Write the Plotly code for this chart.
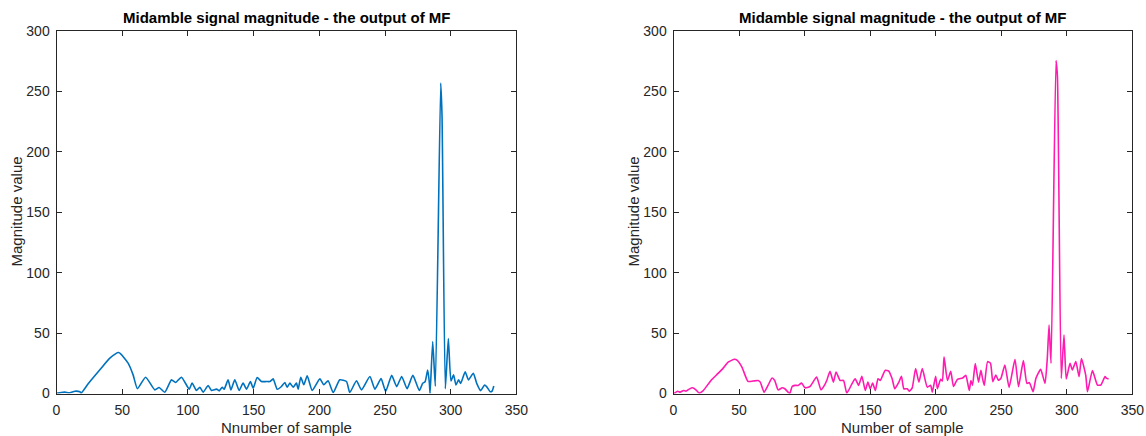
import plotly.graph_objects as go

W, H = 1146, 436

# ---------------- data ----------------
left_x = [0.5, 3.5, 6.3, 10.1, 14.0, 17.8, 18.8, 24.1, 33.0, 40.6, 47.4, 54.5, 58.3, 61.6,
          67.8, 74.8, 78.1, 82.4, 87.5, 90.6, 95.1, 101.0, 103.2, 106.5, 109.1, 111.6,
          115.4, 117.9, 121.8, 123.8, 126.1, 127.6, 130.6, 132.7, 135.7, 139.0, 142.0,
          144.6, 147.6, 149.7, 152.7, 156.0, 159.8, 162.4, 164.9, 167.9, 171.2, 173.8,
          175.5, 177.6, 180.1, 182.6, 183.9, 185.9, 188.2, 190.8, 194.6, 200.4, 203.4,
          206.7, 210.6, 215.6, 220.7, 223.2, 228.3, 232.1, 238.5, 242.3, 247.0, 250.5,
          255.1, 258.9, 262.7, 266.8, 271.2, 276.1, 278.7, 280.5, 282.5, 283.8, 284.3,
          286.3, 288.3, 292.4, 293.4, 295.9, 298.2, 300.2, 302.2, 304.0, 306.0, 307.6,
          311.0, 313.5, 317.2, 319.8, 322.8, 325.8, 327.5, 330.0, 331.5, 332.8]
left_y = [0.3, 0.8, 1.1, 0.6, 1.9, 1.4, 0.4, 8.0, 19.6, 29.2, 33.9, 25.1, 15.4, 4.0,
          13.5, 3.0, 5.0, 1.1, 11.3, 9.1, 13.5, 3.6, 8.6, 2.5, 5.2, 1.1,
          6.6, 2.5, 3.6, 2.2, 5.2, 3.6, 11.3, 3.0, 11.3, 2.5, 8.6,
          3.6, 9.9, 4.4, 13.2, 9.9, 9.9, 9.9, 12.1, 3.6, 5.8, 9.1,
          5.2, 8.6, 5.2, 8.6, 3.6, 13.5, 7.2, 14.6, 2.5, 12.1, 7.2,
          10.5, 0.8, 11.3, 9.9, 0.8, 10.5, 3.0, 14.1, 3.6, 12.3, 1.8,
          15.0, 5.7, 14.1, 4.0, 15.0, 2.5, 8.4, 9.7, 19.4, 8.4, 0.0,
          43.0, 6.0, 257.0, 229.6, 3.9, 45.5, 10.3, 15.4, 7.0, 11.3, 8.4,
          18.0, 11.3, 16.7, 8.4, 2.4, 7.0, 5.5, 1.5, 2.0, 6.2]

right_x = [0.5, 3.1, 5.1, 7.7, 9.5, 12.0, 14.6, 17.1, 19.7, 22.3, 28.6, 33.8, 37.6, 41.9,
           46.5, 48.6, 52.2, 56.8, 60.6, 64.5, 66.2, 69.1, 72.1, 75.2, 77.2, 79.8, 82.9,
           84.9, 88.7, 90.5, 92.6, 95.1, 97.7, 100.3, 104.1, 109.2, 112.5, 115.1, 116.9,
           119.4, 122.0, 124.0, 127.1, 129.7, 132.2, 136.1, 138.6, 141.2, 143.7, 146.3,
           148.3, 150.1, 151.9, 154.0, 156.0, 157.8, 159.6, 161.6, 164.2, 166.8, 168.8,
           171.9, 173.9, 175.7, 178.3, 180.0, 182.1, 184.7, 187.2, 189.8, 193.6, 196.2,
           197.4, 200.0, 201.3, 203.8, 205.1, 206.4, 209.0, 211.5, 213.6, 216.6, 220.5,
           223.0, 225.6, 226.9, 228.1, 230.2, 232.7, 234.5, 235.8, 237.1, 239.6, 241.8,
           243.6, 245.9, 247.8, 249.8, 252.8, 256.0, 260.5, 263.2, 266.9, 269.6, 271.5,
           274.3, 276.5, 280.1, 283.4, 285.2, 286.5, 288.0, 291.8, 292.9, 295.8, 297.9,
           299.6, 302.5, 304.3, 306.9, 309.4, 311.2, 314.5, 315.8, 319.6, 323.4, 326.0,
           329.2, 330.5, 331.9]
right_y = [0.0, 1.9, 1.1, 2.5, 1.9, 3.6, 4.7, 3.0, 0.3, 1.9, 10.8, 16.4, 20.6, 26.1,
           28.3, 27.5, 21.9, 10.0, 10.3, 10.8, 9.4, 1.1, 6.7, 12.8, 10.8, 3.0, 4.7,
           3.9, 0.0, 5.8, 6.7, 6.7, 8.6, 4.7, 5.8, 13.6, 3.0, 6.7, 10.8,
           18.3, 9.4, 17.8, 10.8, 10.8, 0.3, 8.0, 12.2, 6.7, 14.2, 2.5,
           9.4, 3.9, 8.6, 2.5, 12.2, 10.8, 15.0, 19.2, 18.6, 12.2, 3.9,
           9.4, 14.2, 3.9, 3.9, 1.9, 4.7, 20.6, 9.4, 20.6, 5.3, 6.7,
           1.1, 14.2, 3.9, 11.7, 10.3, 30.3, 10.8, 18.3, 5.8, 11.7, 12.8,
           15.0, 2.5, 10.8, 6.7, 24.7, 9.4, 19.2, 12.2, 6.7, 26.4, 25.0,
           9.8, 15.3, 11.0, 12.6, 23.6, 5.1, 28.3, 5.6, 27.2, 8.4, 9.0,
           1.5, 12.6, 20.0, 8.4, 30.0, 56.7, 25.0, 275.5, 262.0, 12.5, 48.4,
           12.0, 25.0, 19.5, 26.4, 14.0, 29.0, 15.0, 1.5, 18.9, 7.0, 7.0,
           14.0, 12.5, 12.1]

x_ticks = [0, 50, 100, 150, 200, 250, 300, 350]
y_ticks = [0, 50, 100, 150, 200, 250, 300]
title_text = "Midamble signal magnitude - the output of MF"
left_xlabel = "Nnumber of sample"
right_xlabel = "Number of sample"
ylabel = "Magnitude value"

# ---------------- layout geometry (pixels) ----------------
L1, R1 = 56.5, 516.4
L2, R2 = 673.5, 1132.3
TOP, BOT = 31.0, 393.5

FONT = "Liberation Sans, Arial, Helvetica, sans-serif"
AX = "#262626"

fig = go.Figure()
fig.add_trace(go.Scatter(x=left_x, y=left_y, mode="lines",
                         line=dict(color="#0072BD", width=1.6, shape="spline", smoothing=0.5),
                         xaxis="x", yaxis="y", showlegend=False, hoverinfo="skip"))
fig.add_trace(go.Scatter(x=right_x, y=right_y, mode="lines",
                         line=dict(color="#FF1AB0", width=1.6, shape="spline", smoothing=0.5),
                         xaxis="x2", yaxis="y2", showlegend=False, hoverinfo="skip"))

def xax(l, r, anchor):
    return dict(domain=[l / W, r / W], range=[0, 350], tickvals=x_ticks,
                ticks="inside", ticklen=5, tickcolor=AX, tickwidth=1,
                showline=True, linecolor=AX, linewidth=1, mirror="ticks",
                showgrid=False, zeroline=False, anchor=anchor, fixedrange=True,
                automargin=False,
                tickfont=dict(family=FONT, size=14, color=AX), ticklabelstandoff=4)

def yax(anchor):
    return dict(domain=[1 - BOT / H, 1 - TOP / H], range=[0, 300], tickvals=y_ticks,
                ticks="inside", ticklen=5, tickcolor=AX, tickwidth=1,
                showline=True, linecolor=AX, linewidth=1, mirror="ticks",
                showgrid=False, zeroline=False, anchor=anchor, fixedrange=True,
                automargin=False,
                tickfont=dict(family=FONT, size=14, color=AX), ticklabelstandoff=3)

annotations = []
for (l, r, xl) in [(L1, R1, left_xlabel), (L2, R2, right_xlabel)]:
    cx = (l + r) / 2 / W
    annotations.append(dict(text="<b>" + title_text + "</b>", x=cx, y=1 - 18 / H,
                            xref="paper", yref="paper", showarrow=False,
                            xanchor="center", yanchor="middle",
                            font=dict(family=FONT, size=15, color="#000000")))
    annotations.append(dict(text=xl, x=cx, y=1 - 427 / H, xref="paper", yref="paper",
                            showarrow=False, xanchor="center", yanchor="middle",
                            font=dict(family=FONT, size=15, color=AX)))
    annotations.append(dict(text=ylabel, x=(l - 41) / W, y=1 - 212 / H,
                            xref="paper", yref="paper", showarrow=False, textangle=-90,
                            xanchor="center", yanchor="middle",
                            font=dict(family=FONT, size=15, color=AX)))

fig.update_layout(
    width=W, height=H,
    margin=dict(l=0, r=0, t=0, b=0, autoexpand=False),
    paper_bgcolor="white", plot_bgcolor="white",
    xaxis=xax(L1, R1, "y"), yaxis=yax("x"),
    xaxis2=xax(L2, R2, "y2"), yaxis2=yax("x2"),
    annotations=annotations,
    showlegend=False,
)

fig.write_html("out.html", config={"displayModeBar": False})
